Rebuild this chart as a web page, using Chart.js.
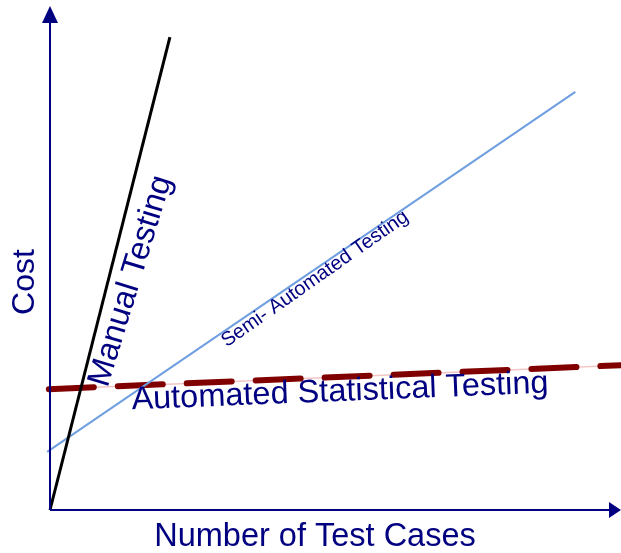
<!DOCTYPE html>
<html>
<head>
<meta charset="utf-8">
<script src="https://cdn.jsdelivr.net/npm/chart.js@4"></script>
<style>
  body { margin: 0; background: #fff; }
  #wrap { width: 621px; height: 553px; }
</style>
</head>
<body>
<div id="wrap"><canvas id="cost-chart"></canvas></div>
<script>
"use strict";

// x = number of test cases, y = cost (both 0..100)
const manualX = [0, 21];
const manualY = [0, 92.7];
const semiX = [-0.5, 92];
const semiY = [11.4, 82];
const autoX = [-0.2, 100];
const autoY = [23.7, 28.4];

const seriesNames = ["Manual Testing", "Semi- Automated Testing", "Automated Statistical Testing"];
const xTitle = "Number of Test Cases";
const yTitle = "Cost";

const navy = "#000080";
const font = "Liberation Sans, Arial, sans-serif";

function toPoints(xs, ys) {
  return xs.map((x, i) => ({ x: x, y: ys[i] }));
}

// axes with arrow heads + free text labels
const axesAndLabels = {
  id: "axesAndLabels",
  afterDatasetsDraw(chart) {
    const ctx = chart.ctx;
    const xs = chart.scales.x;
    const ys = chart.scales.y;
    const x0 = xs.getPixelForValue(0);
    const y0 = ys.getPixelForValue(0);
    const xEnd = xs.getPixelForValue(100);
    const yEnd = ys.getPixelForValue(98.8);

    ctx.save();
    ctx.strokeStyle = navy;
    ctx.fillStyle = navy;
    ctx.lineWidth = 2;
    ctx.beginPath();
    ctx.moveTo(x0, y0);
    ctx.lineTo(x0, yEnd + 14);
    ctx.moveTo(x0, y0);
    ctx.lineTo(xEnd - 12, y0);
    ctx.stroke();

    // arrow heads
    ctx.beginPath();
    ctx.moveTo(x0, yEnd);
    ctx.lineTo(x0 - 8, yEnd + 17);
    ctx.lineTo(x0 + 8, yEnd + 17);
    ctx.closePath();
    ctx.fill();
    ctx.beginPath();
    ctx.moveTo(xEnd, y0);
    ctx.lineTo(xEnd - 12, y0 - 8);
    ctx.lineTo(xEnd - 12, y0 + 8);
    ctx.closePath();
    ctx.fill();

    function label(text, px, py, angle, size) {
      ctx.save();
      ctx.translate(px, py);
      ctx.rotate(angle * Math.PI / 180);
      ctx.font = size + "px " + font;
      ctx.textAlign = "center";
      ctx.textBaseline = "middle";
      ctx.fillText(text, 0, 0);
      ctx.restore();
    }

    label(yTitle, 25, 282, -90, 32);
    label(xTitle, 315, 537, 0, 32.5);
    label(seriesNames[0], 131, 281, -73, 32.5);
    label(seriesNames[1], 315, 279, -35, 20);
    label(seriesNames[2], 340, 392, -2.3, 32.5);
    ctx.restore();
  },
};

// lower dataset index is drawn on top
const configuration = {
  type: "scatter",
  data: {
    datasets: [
      {
        label: seriesNames[0],
        data: toPoints(manualX, manualY),
        showLine: true,
        borderColor: "#000000",
        borderWidth: 3,
        pointRadius: 0,
        clip: false,
      },
      {
        label: seriesNames[1],
        data: toPoints(semiX, semiY),
        showLine: true,
        borderColor: "#6f9fe0",
        borderWidth: 2,
        pointRadius: 0,
        clip: false,
      },
      {
        label: seriesNames[2],
        data: toPoints(autoX, autoY),
        showLine: true,
        borderColor: "#800000",
        borderWidth: 6,
        borderDash: [45, 24],
        borderCapStyle: "round",
        pointRadius: 0,
        clip: false,
      },
      {
        label: "",
        data: toPoints(autoX, autoY),
        showLine: true,
        borderColor: "#f2c6c6",
        borderWidth: 1.5,
        pointRadius: 0,
        clip: false,
      },
    ],
  },
  options: {
    responsive: true,
    maintainAspectRatio: false,
    animation: false,
    layout: {
      padding: { left: 50, right: 0, top: 0, bottom: 43 },
    },
    plugins: {
      legend: { display: false },
      tooltip: { enabled: false },
    },
    scales: {
      x: { type: "linear", min: 0, max: 100, display: false },
      y: { type: "linear", min: 0, max: 100, display: false },
    },
  },
  plugins: [axesAndLabels],
};

new Chart(document.querySelector("#cost-chart").getContext("2d"), configuration);
</script>
</body>
</html>
